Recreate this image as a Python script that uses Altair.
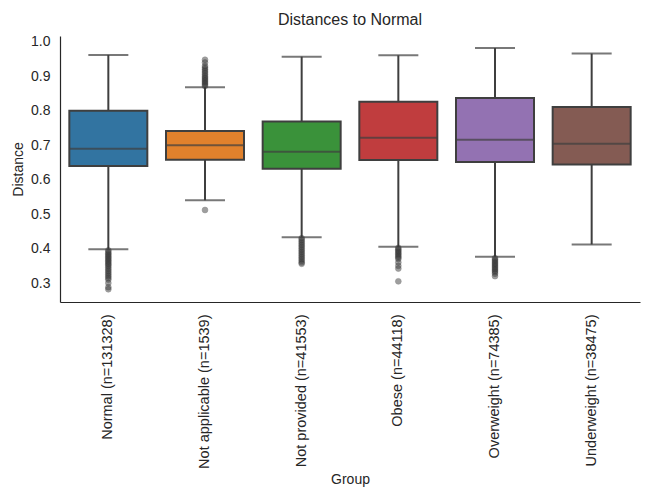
import altair as alt
import pandas as pd

labels = ["Normal (n=131328)", "Not applicable (n=1539)", "Not provided (n=41553)",
          "Obese (n=44118)", "Overweight (n=74385)", "Underweight (n=38475)"]
colors = ["#3274a1", "#e1812c", "#3a923a", "#c03d3e", "#9372b2", "#845b53"]
q1 = [0.640, 0.658, 0.632, 0.657, 0.651, 0.644]
med = [0.690, 0.700, 0.681, 0.722, 0.716, 0.704]
q3 = [0.800, 0.741, 0.769, 0.826, 0.837, 0.811]
lo = [0.398, 0.540, 0.433, 0.405, 0.376, 0.412]
hi = [0.962, 0.868, 0.957, 0.961, 0.982, 0.966]
yticks = [0.3, 0.4, 0.5, 0.6, 0.7, 0.8, 0.9, 1.0]

out_normal = [0.395, 0.39, 0.386, 0.382, 0.378, 0.374, 0.37, 0.366, 0.362, 0.358, 0.354,
              0.35, 0.345, 0.34, 0.335, 0.33, 0.325, 0.32, 0.315, 0.31, 0.30, 0.288, 0.282]
out_na = [0.872, 0.876, 0.88, 0.884, 0.888, 0.892, 0.896, 0.90, 0.905, 0.91, 0.915, 0.92,
          0.925, 0.93, 0.94, 0.948, 0.512]
out_np = [0.43, 0.425, 0.42, 0.415, 0.41, 0.405, 0.40, 0.395, 0.39, 0.385, 0.38, 0.375,
          0.37, 0.365, 0.36, 0.356]
out_obese = [0.402, 0.398, 0.394, 0.39, 0.386, 0.382, 0.378, 0.374, 0.37, 0.36, 0.35, 0.342, 0.305]
out_over = [0.372, 0.368, 0.364, 0.36, 0.356, 0.352, 0.348, 0.344, 0.34, 0.336, 0.332, 0.327, 0.32]
out_under = []
outliers = [out_normal, out_na, out_np, out_obese, out_over, out_under]

stats = pd.DataFrame({"label": labels, "q1": q1, "med": med, "q3": q3, "lo": lo, "hi": hi})
out_rows = [{"label": lab, "value": v} for lab, vals in zip(labels, outliers) for v in vals]
outs = pd.DataFrame(out_rows, columns=["label", "value"])

edge = "#3f3f3f"
ydom = [0.245, 1.017]
txt = "#262626"
fnt = "Liberation Sans"

xaxis = alt.Axis(labelAngle=-90, labelPadding=12, titlePadding=4, labelLimit=300,
                 labelFontSize=14.5)
x = alt.X("label:N", sort=labels, title="Group",
          scale=alt.Scale(paddingInner=0, paddingOuter=0), axis=xaxis)
yscale = alt.Scale(domain=ydom, nice=False, zero=False)
yaxis = alt.Axis(values=yticks, format=".1f", labelPadding=10, labelOverlap=False,
                 labelFlush=False, titlePadding=5)


def Y(field):
    return alt.Y(field, scale=yscale, axis=yaxis, title="Distance")


base = alt.Chart(stats)

whisk_hi = base.mark_rule(color=edge, strokeWidth=2).encode(x=x, y=Y("q3:Q"), y2="hi:Q")
whisk_lo = base.mark_rule(color=edge, strokeWidth=2).encode(x=x, y=Y("lo:Q"), y2="q1:Q")
box = base.mark_bar(size=78, stroke=edge, strokeWidth=2).encode(
    x=x, y=Y("q1:Q"), y2="q3:Q",
    color=alt.Color("label:N", scale=alt.Scale(domain=labels, range=colors), legend=None))
median = base.mark_tick(size=78, thickness=2, color=edge, orient="horizontal").encode(
    x=x, y=Y("med:Q"))
cap_hi = base.mark_tick(size=40, thickness=2, color=edge, orient="horizontal").encode(
    x=x, y=Y("hi:Q"))
cap_lo = base.mark_tick(size=40, thickness=2, color=edge, orient="horizontal").encode(
    x=x, y=Y("lo:Q"))
pts = alt.Chart(outs).mark_point(filled=True, shape="circle", size=34, color="#3f3f3f",
                                 opacity=0.5, stroke="#262626", strokeWidth=0.6).encode(
    x=x, y=Y("value:Q"))

chart = alt.layer(whisk_hi, whisk_lo, box, median, cap_hi, cap_lo, pts).properties(
    width=580, height=266,
    title=alt.TitleParams("Distances to Normal", fontSize=16, font=fnt,
                          fontWeight="normal", color=txt, offset=7),
    autosize=alt.AutoSizeParams(type="none"),
    padding={"left": 52, "top": 28, "right": 2, "bottom": 185},
).configure_view(stroke=None).configure_axis(
    grid=False, ticks=False, labelFontSize=14, titleFontSize=14, labelColor=txt,
    titleColor=txt, domainColor=txt, labelFont=fnt, titleFont=fnt,
    titleFontWeight="normal", domainWidth=1.2)

chart.save("out.html", embed_options={"renderer": "svg", "actions": False})
